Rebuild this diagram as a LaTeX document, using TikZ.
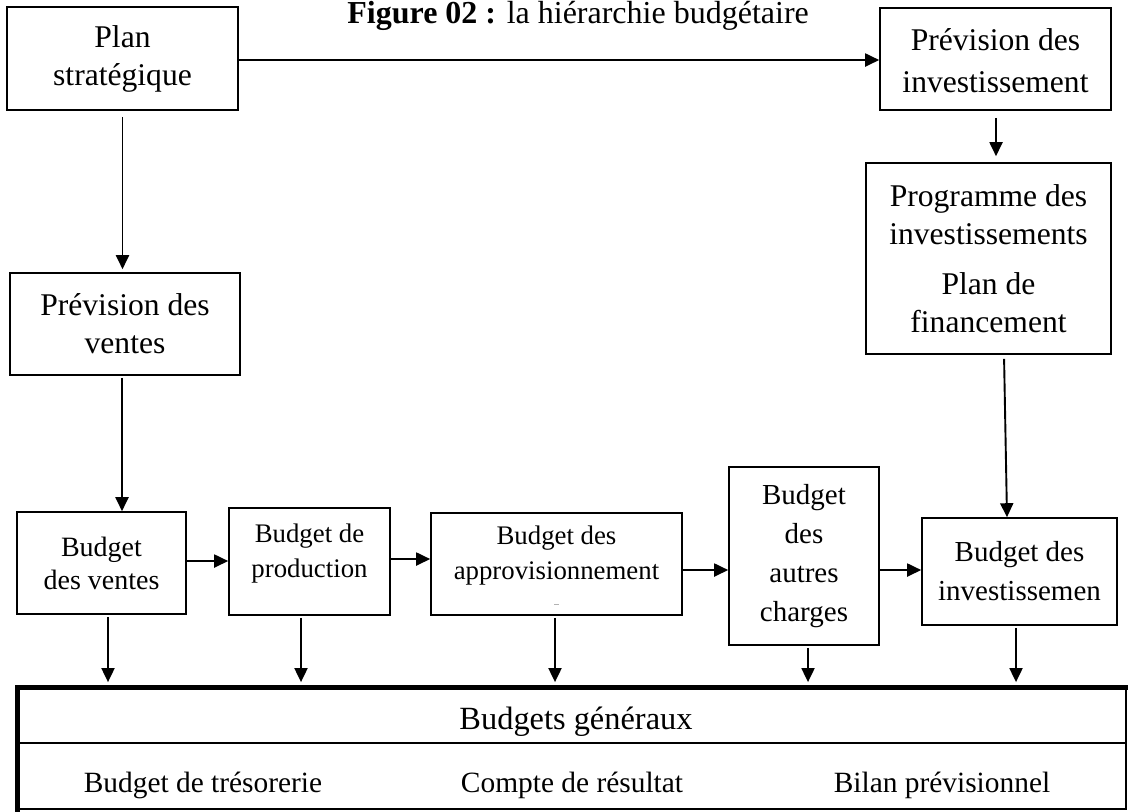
\documentclass[tikz,border=0pt]{standalone}
\usepackage{fontspec}
\setmainfont{Liberation Serif}
\usetikzlibrary{arrows.meta}
\begin{document}
\begin{tikzpicture}[x=0.5pt,y=-0.5pt,
  box/.style={draw, line width=0.8pt, align=center, inner sep=0pt},
  txt/.style={align=center, inner sep=0pt},
  arr/.style={line width=0.95pt, -{Triangle[length=7pt,width=6.5pt]}},
  fbig/.style={font=\fontsize{15.8}{19}\selectfont},
  fmid/.style={font=\fontsize{14.5}{19.5}\selectfont},
  fsmall/.style={font=\fontsize{13.4}{17.5}\selectfont},
  frow/.style={font=\fontsize{14.7}{18}\selectfont, anchor=base, inner sep=0pt}]
\useasboundingbox (0,0) rectangle (1128,811);

% title
\node[anchor=base west, inner sep=0pt, font=\fontsize{16}{19}\selectfont] (title) at (347,23)
  {\textbf{Figure 02 :} la hiérarchie budgétaire};

% upper boxes
\node[box, fbig, minimum width=115.5pt, minimum height=51.5pt] (plan) at (122.5,58.5) {Plan\\stratégique};
\node[box, minimum width=115.5pt, minimum height=51pt] (previnv) at (995.5,59) {};
\node[txt, font=\fontsize{15.8}{21}\selectfont] (previnvtext) at ([yshift=-1pt]previnv.center) {Prévision des\\investissement};
\node[box, fbig, minimum width=122.5pt, minimum height=95.5pt] (prog) at (988.5,258.5)
  {Programme des\\investissements\\[6pt]Plan de\\financement};
\node[box, fbig, minimum width=115pt, minimum height=51pt] (prevv) at (125,324) {Prévision des\\ventes};

% row of operating budgets
\node[box, font=\fontsize{14}{16.5}\selectfont, minimum width=84.5pt, minimum height=51pt] (ventes) at (101.5,563) {Budget\\des ventes};
\node[box, minimum width=80.5pt, minimum height=53.5pt] (prod) at (309.5,561.5) {};
\node[txt, fsmall] (prodtext) at ([yshift=4pt]prod.center) {Budget de\\production};
\node[box, minimum width=125.5pt, minimum height=51pt] (approv) at (556.5,564) {};
\node[txt, fsmall] (approvtext) at ([yshift=4pt]approv.center) {Budget des\\approvisionnement};
\node[box, fmid, minimum width=75pt, minimum height=89pt] (autres) at (804,556) {Budget\\des\\autres\\charges};
\node[box, fmid, minimum width=97.5pt, minimum height=53.5pt] (invest) at (1019.5,571.5) {Budget des\\investissemen};
\draw[gray!60, line width=0.5pt] (554,604) -- (559,604);

% general budgets table
\node[draw, line width=0.9pt, minimum width=554pt, minimum height=60.5pt, inner sep=0pt] (gen) at (572,748.5) {};
\draw[line width=0.9pt] (gen.west |- 0,743) -- (gen.east |- 0,743);
\draw[line width=2.4pt, line cap=rect] (gen.south west) -- (gen.north west) -- (gen.north east);
\node[frow, font=\fontsize{16.2}{18}\selectfont] (gentitle) at (576,729) {Budgets généraux};
\node[frow] (treso) at (203,792) {Budget de trésorerie};
\node[frow] (resultat) at (572,792) {Compte de résultat};
\node[frow] (bilan) at (942,792) {Bilan prévisionnel};

% flow connectors
\draw[arr] (plan.east |- 0,60) -- (previnv.west |- 0,60);
\draw[arr, shorten <=3pt, shorten >=1.5pt] (plan.south) -- (prevv.north -| plan.south);
\draw[arr, shorten <=3.5pt, shorten >=3pt] ([xshift=0.25pt]previnv.south) -- ([xshift=0.25pt]previnv.south |- prog.north);
\draw[arr, shorten <=1pt] ([xshift=-1.5pt]prevv.south) -- ([xshift=-1.5pt]prevv.south |- ventes.north);
\draw[arr, shorten <=2pt] ([xshift=7.75pt]prog.south) -- ([xshift=-6.25pt]invest.north);

\draw[arr] ([yshift=1pt]ventes.east) -- ([yshift=1pt]ventes.east -| prod.west);
\draw[arr] ([yshift=1.25pt]prod.east) -- ([yshift=1.25pt]prod.east -| approv.west);
\draw[arr] ([yshift=-3pt]approv.east) -- ([yshift=-3pt]approv.east -| autres.west);
\draw[arr] ([yshift=0.75pt]autres.east |- invest.west) -- ([yshift=0.75pt]invest.west);

% into the general budgets
\foreach \src/\dx in {ventes/3.25, prod/-4.25, approv/-0.75, autres/2, invest/-1.75}
  \draw[arr, shorten <=1pt, shorten >=2.5pt] ([xshift=\dx pt]\src.south) -- ([xshift=\dx pt]\src.south |- gen.north);
\end{tikzpicture}
\end{document}
